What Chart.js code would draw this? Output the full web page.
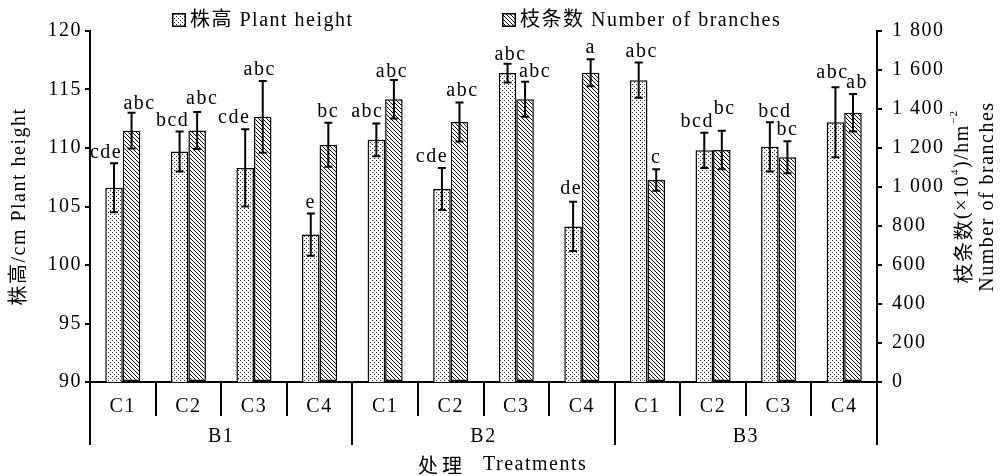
<!DOCTYPE html>
<html>
<head>
<meta charset="utf-8">
<script src="https://cdn.jsdelivr.net/npm/chart.js@4.4.1/dist/chart.umd.min.js"></script>
<style>
  html, body { margin: 0; padding: 0; background: #fff; }
  #c { display: block; }
</style>
</head>
<body>
<canvas id="c" width="1002" height="476"></canvas>
<script>
// Treatments: C1–C4 nested in blocks B1–B3
const treatments = ['C1', 'C2', 'C3', 'C4', 'C1', 'C2', 'C3', 'C4', 'C1', 'C2', 'C3', 'C4'];
const blocks = ['B1', 'B2', 'B3'];

// Plant height (cm), mean ± SD and significance letters
const plantHeight    = [106.6, 109.7, 108.3, 102.6, 110.7, 106.5, 116.4, 103.3, 115.8, 109.8, 110.1, 112.2];
const plantHeightErr = [2.1, 1.7, 3.3, 1.8, 1.4, 1.8, 0.8, 2.1, 1.5, 1.5, 2.1, 3.0];
const plantHeightSig = ['cde', 'bcd', 'cde', 'e', 'abc', 'cde', 'abc', 'de', 'abc', 'bcd', 'bcd', 'abc'];

// Number of branches (×10^4 /hm²), mean ± SD and significance letters
const branches    = [1289, 1290, 1360, 1217, 1450, 1333, 1450, 1586, 1036, 1190, 1152, 1381];
const branchesErr = [92, 95, 184, 113, 99, 100, 90, 69, 55, 99, 82, 96];
const branchesSig = ['abc', 'abc', 'abc', 'bc', 'abc', 'abc', 'abc', 'a', 'c', 'bc', 'bc', 'ab'];

// Axis ranges
const heightAxis = { min: 90, max: 120, step: 5 };
const branchAxis = { min: 0, max: 1800, step: 200 };

// Letter placement tweaks [dx, gap above error cap] so neighbouring labels don't collide
const heightLabelNudge = [[-8, 5], [-7, 6], [-11, 6], [0, 6], [-9, 6], [-10, 6], [3, 4], [-2, 8], [3, 6], [-7, 6], [5, 5], [-3, 9]];
const branchLabelNudge = [[8, 4], [5, 8], [-3, 6], [0, 6], [-2, 3], [3, 7], [10, 5], [0, 6], [0, 6], [3, 17], [0, 6], [4, 6]];

const FONT = '"Liberation Serif", "Noto Sans CJK SC", serif';
const CJK = '"Noto Sans CJK SC", "Liberation Serif", sans-serif';

function makeDots() {
  const c = document.createElement('canvas');
  c.width = 4; c.height = 4;
  const g = c.getContext('2d');
  g.fillStyle = '#fff'; g.fillRect(0, 0, 4, 4);
  g.fillStyle = '#222';
  g.fillRect(0, 0, 1, 1);
  g.fillRect(2, 2, 1, 1);
  return g.createPattern(c, 'repeat');
}
function makeHatch() {
  const s = 4;
  const c = document.createElement('canvas');
  c.width = s; c.height = s;
  const g = c.getContext('2d');
  g.fillStyle = '#fff'; g.fillRect(0, 0, s, s);
  g.strokeStyle = '#000'; g.lineWidth = 1;
  g.beginPath();
  g.moveTo(-1, -1); g.lineTo(s + 1, s + 1);
  g.moveTo(-1, s - 1); g.lineTo(1, s + 1);
  g.moveTo(s - 1, -1); g.lineTo(s + 1, 1);
  g.stroke();
  return g.createPattern(c, 'repeat');
}
const dots = makeDots();
const hatch = makeHatch();

const spacing = {
  id: 'spacing',
  beforeDraw(chart) { chart.ctx.letterSpacing = '1.5px'; }
};

// Error bars and significance letters
const errorBars = {
  id: 'errorBars',
  afterDatasetsDraw(chart) {
    const ctx = chart.ctx;
    const sets = [
      { errs: plantHeightErr, sig: plantHeightSig, nudge: heightLabelNudge },
      { errs: branchesErr, sig: branchesSig, nudge: branchLabelNudge }
    ];
    ctx.save();
    ctx.letterSpacing = '1.5px';
    sets.forEach((s, di) => {
      const ds = chart.data.datasets[di];
      const scale = chart.scales[ds.yAxisID];
      const meta = chart.getDatasetMeta(di);
      meta.data.forEach((bar, j) => {
        const v = ds.data[j], e = s.errs[j];
        const yTop = scale.getPixelForValue(v + e);
        const yBot = scale.getPixelForValue(v - e);
        const x = bar.x;
        ctx.strokeStyle = '#000';
        ctx.lineWidth = 2;
        ctx.beginPath();
        ctx.moveTo(x, yTop); ctx.lineTo(x, yBot);
        ctx.moveTo(x - 4, yTop); ctx.lineTo(x + 4, yTop);
        ctx.moveTo(x - 4, yBot); ctx.lineTo(x + 4, yBot);
        ctx.stroke();
        ctx.fillStyle = '#000';
        ctx.font = '20px ' + FONT;
        ctx.textAlign = 'center';
        ctx.textBaseline = 'alphabetic';
        ctx.fillText(s.sig[j], x + s.nudge[j][0], yTop - s.nudge[j][1]);
      });
    });
    ctx.restore();
  }
};

// Legend, block grouping, axis titles
const decorations = {
  id: 'decorations',
  afterDraw(chart) {
    const ctx = chart.ctx;
    const xs = chart.scales.x;
    const area = chart.chartArea;
    ctx.save();
    ctx.letterSpacing = '1.5px';
    ctx.fillStyle = '#000';
    ctx.strokeStyle = '#000';

    // legend
    const items = [
      { x: 172, fill: dots, text: '株高 Plant height' },
      { x: 502, fill: hatch, text: '枝条数 Number of branches' }
    ];
    items.forEach(it => {
      ctx.fillStyle = it.fill;
      ctx.fillRect(it.x, 13, 14, 14);
      ctx.lineWidth = 1.5;
      ctx.strokeRect(it.x + 0.75, 13.75, 12.5, 12.5);
      ctx.fillStyle = '#000';
      ctx.font = '20px ' + FONT;
      ctx.textAlign = 'left';
      ctx.textBaseline = 'middle';
      ctx.fillText(it.text, it.x + 18, 21);
    });

    // block separators and block names
    ctx.lineWidth = 2;
    for (let k = 0; k <= blocks.length; k++) {
      const px = Math.round(xs.getPixelForValue(k * 4 - 0.5));
      ctx.beginPath();
      ctx.moveTo(px, area.bottom);
      ctx.lineTo(px, 445);
      ctx.stroke();
    }
    ctx.font = '20px ' + FONT;
    ctx.textAlign = 'center';
    ctx.textBaseline = 'middle';
    blocks.forEach((b, k) => {
      ctx.fillText(b, xs.getPixelForValue(k * 4 + 1.5), 437);
    });

    // x axis title
    ctx.textAlign = 'left';
    ctx.font = '20px ' + CJK;
    ctx.letterSpacing = '4px';
    ctx.fillText('处理', 418, 465);
    ctx.letterSpacing = '1.5px';
    ctx.font = '20px ' + FONT;
    ctx.fillText('Treatments', 483, 465);

    // right axis title (two lines, reading bottom to top)
    const cy = (area.top + area.bottom) / 2 - 10;
    ctx.save();
    ctx.translate(963, cy);
    ctx.rotate(-Math.PI / 2);
    const parts = [
      { t: '枝条数', f: '20px ' + CJK, dy: 0 },
      { t: '(×10', f: '20px ' + FONT, dy: 0 },
      { t: '4', f: '11px ' + FONT, dy: -8 },
      { t: ')/hm', f: '20px ' + FONT, dy: 0 },
      { t: '−2', f: '11px ' + FONT, dy: -9 }
    ];
    let total = 0;
    parts.forEach(p => { ctx.font = p.f; p.w = ctx.measureText(p.t).width; total += p.w; });
    let cx = -total / 2;
    ctx.textAlign = 'left';
    ctx.textBaseline = 'middle';
    parts.forEach(p => {
      ctx.font = p.f;
      ctx.fillText(p.t, cx, p.dy);
      cx += p.w;
    });
    ctx.restore();

    ctx.save();
    ctx.translate(988, cy);
    ctx.rotate(-Math.PI / 2);
    ctx.font = '20px ' + FONT;
    ctx.textAlign = 'center';
    ctx.textBaseline = 'middle';
    ctx.fillText('Number of branches', 0, 0);
    ctx.restore();

    ctx.restore();
  }
};

const spaced = v => {
  const s = String(v);
  return s.length > 3 ? s.slice(0, s.length - 3) + ' ' + s.slice(-3) : s;
};

new Chart(document.getElementById('c'), {
  type: 'bar',
  data: {
    labels: treatments,
    datasets: [
      {
        label: '株高 Plant height',
        data: plantHeight,
        yAxisID: 'y',
        backgroundColor: dots,
        borderColor: '#000',
        borderWidth: 1.5,
        borderSkipped: false
      },
      {
        label: '枝条数 Number of branches',
        data: branches,
        yAxisID: 'y1',
        backgroundColor: hatch,
        borderColor: '#000',
        borderWidth: 1.5,
        borderSkipped: false
      }
    ]
  },
  options: {
    responsive: false,
    animation: false,
    devicePixelRatio: 1,
    layout: { padding: { top: 31, left: 0, right: 0, bottom: 0 } },
    categoryPercentage: 0.535,
    barPercentage: 1,
    plugins: {
      legend: { display: false },
      tooltip: { enabled: false }
    },
    scales: {
      x: {
        type: 'category',
        offset: true,
        grid: { offset: true, drawOnChartArea: false, tickLength: 34, color: '#000', lineWidth: 2 },
        border: { display: true, color: '#000', width: 2 },
        ticks: { color: '#000', font: { family: FONT, size: 20 }, padding: -21, maxRotation: 0, autoSkip: false },
        afterFit(s) { s.height = 94; }
      },
      y: {
        position: 'left',
        min: heightAxis.min,
        max: heightAxis.max,
        ticks: { stepSize: heightAxis.step, color: '#000', font: { family: FONT, size: 20 }, padding: 3 },
        grid: { drawOnChartArea: false, tickLength: 5, color: '#000', lineWidth: 2 },
        border: { display: true, color: '#000', width: 2 },
        title: {
          display: true,
          text: '株高/cm Plant height',
          color: '#000',
          font: { family: FONT, size: 20 },
          padding: { top: 8, bottom: 0 }
        },
        afterFit(s) { s.width = 90; }
      },
      y1: {
        position: 'right',
        min: branchAxis.min,
        max: branchAxis.max,
        ticks: { stepSize: branchAxis.step, color: '#000', font: { family: FONT, size: 20 }, padding: 10, callback: spaced },
        grid: { drawOnChartArea: false, tickLength: 5, color: '#000', lineWidth: 2 },
        border: { display: true, color: '#000', width: 2 },
        afterFit(s) { s.width = 125; }
      }
    }
  },
  plugins: [spacing, errorBars, decorations]
});
</script>
</body>
</html>
